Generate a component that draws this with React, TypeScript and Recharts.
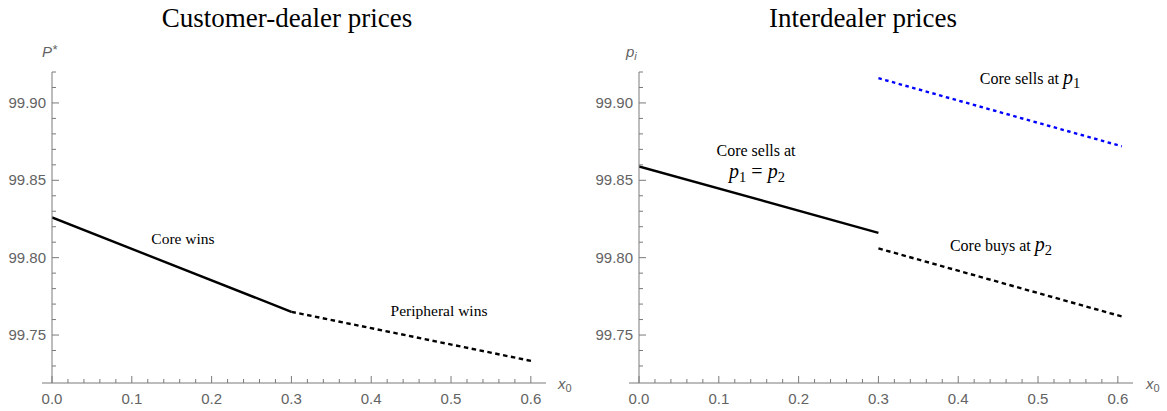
import React from 'react';
import { LineChart, Line, XAxis, YAxis, ReferenceLine } from 'recharts';

// ---------- data ----------
const xTicks = [0, 0.02, 0.04, 0.06, 0.08, 0.1, 0.12, 0.14, 0.16, 0.18, 0.2, 0.22, 0.24, 0.26, 0.28, 0.3, 0.32, 0.34, 0.36, 0.38, 0.4, 0.42, 0.44, 0.46, 0.48, 0.5, 0.52, 0.54, 0.56, 0.58, 0.6];
const xMajorTicks = [0, 0.1, 0.2, 0.3, 0.4, 0.5, 0.6];
const yTicks = [99.73, 99.74, 99.75, 99.76, 99.77, 99.78, 99.79, 99.8, 99.81, 99.82, 99.83, 99.84, 99.85, 99.86, 99.87, 99.88, 99.89, 99.9, 99.91, 99.92];
const yMajorTicks = [99.75, 99.8, 99.85, 99.9];

// left panel: customer-dealer prices
const coreWinsX = [0, 0.3];
const coreWinsP = [99.826, 99.765];
const peripheralWinsX = [0.3, 0.603];
const peripheralWinsP = [99.765, 99.733];

// right panel: interdealer prices
const coreSellsEqualX = [0, 0.3];
const coreSellsEqualP = [99.859, 99.816];
const coreSellsP1X = [0.3, 0.605];
const coreSellsP1P = [99.916, 99.872];
const coreBuysP2X = [0.3, 0.605];
const coreBuysP2P = [99.806, 99.762];

const X_DOMAIN: [number, number] = [0, 0.619];
const Y_DOMAIN: [number, number] = [99.719, 99.92];

const rows = (xs: number[], ys: number[]) => xs.map((x, i) => ({ x, p: ys[i] }));

// ---------- style ----------
const AXIS = '#7a7a7a';
const TEXT = '#636363';
const SANS = '"Liberation Sans", Arial, sans-serif';
const SERIF = '"Liberation Serif", "Times New Roman", serif';

const isIn = (arr: number[], v: number) => arr.some((m) => Math.abs(m - v) < 1e-6);

const XTick = (props: any) => {
  const { x, y, payload } = props;
  const v = payload.value as number;
  const major = isIn(xMajorTicks, v);
  return (
    <g>
      <line x1={x} x2={x} y1={y} y2={y - (major ? 7 : 4)} stroke={AXIS} strokeWidth={1} />
      {major && (
        <text x={x} y={y + 21} textAnchor="middle" fontFamily={SANS} fontSize={15} fill={TEXT}>
          {v.toFixed(1)}
        </text>
      )}
    </g>
  );
};

const YTick = (props: any) => {
  const { x, y, payload } = props;
  const v = payload.value as number;
  const major = isIn(yMajorTicks, v);
  return (
    <g>
      <line x1={x} x2={x + (major ? 7 : 4)} y1={y} y2={y} stroke={AXIS} strokeWidth={1} />
      {major && (
        <text x={x - 6} y={y + 5} textAnchor="end" fontFamily={SANS} fontSize={15} fill={TEXT}>
          {v.toFixed(2)}
        </text>
      )}
    </g>
  );
};

type Series = { key: string; data: { x: number; p: number }[]; color: string; dash?: string };

function Panel({ series, width, yAxisWidth, marginRight }: { series: Series[]; width: number; yAxisWidth: number; marginRight: number }) {
  return (
    <LineChart width={width} height={411} margin={{ top: 72, right: marginRight, bottom: 0, left: 0 }}>
      <XAxis
        type="number"
        dataKey="x"
        domain={X_DOMAIN}
        allowDataOverflow
        ticks={xTicks}
        interval={0}
        tick={(p: any) => <XTick {...p} />}
        tickLine={false}
        tickSize={0}
        tickMargin={0}
        height={28}
        axisLine={{ stroke: AXIS, strokeWidth: 1 }}
      />
      <YAxis
        type="number"
        domain={Y_DOMAIN}
        allowDataOverflow
        ticks={yTicks}
        interval={0}
        tick={(p: any) => <YTick {...p} />}
        tickLine={false}
        tickSize={0}
        tickMargin={0}
        width={yAxisWidth}
        axisLine={{ stroke: AXIS, strokeWidth: 1 }}
      />
      <ReferenceLine
        segment={[{ x: -0.0125, y: Y_DOMAIN[0] }, { x: 0, y: Y_DOMAIN[0] }]}
        ifOverflow="visible"
        stroke={AXIS}
        strokeWidth={1}
      />
      {series.map((s) => (
        <Line
          key={s.key}
          data={s.data}
          dataKey="p"
          type="linear"
          stroke={s.color}
          strokeWidth={2.4}
          strokeDasharray={s.dash}
          dot={false}
          activeDot={false}
          isAnimationActive={false}
        />
      ))}
    </LineChart>
  );
}

const leftSeries: Series[] = [
  { key: 'core', data: rows(coreWinsX, coreWinsP), color: '#000000' },
  { key: 'peri', data: rows(peripheralWinsX, peripheralWinsP), color: '#000000', dash: '4.5 3.5' },
];
const rightSeries: Series[] = [
  { key: 'eq', data: rows(coreSellsEqualX, coreSellsEqualP), color: '#000000' },
  { key: 'p1', data: rows(coreSellsP1X, coreSellsP1P), color: '#0000ff', dash: '3.5 3.5' },
  { key: 'p2', data: rows(coreBuysP2X, coreBuysP2P), color: '#000000', dash: '4.5 3.5' },
];

export default function App() {
  return (
    <div style={{ position: 'absolute', left: 0, top: 0, width: 1167, height: 411, background: '#fff' }}>
      <div style={{ position: 'absolute', left: 0, top: 0 }}>
        <Panel series={leftSeries} width={583} yAxisWidth={52} marginRight={37} />
      </div>
      <div style={{ position: 'absolute', left: 583, top: 0 }}>
        <Panel series={rightSeries} width={584} yAxisWidth={56} marginRight={34} />
      </div>
      <svg width={1167} height={411} style={{ position: 'absolute', left: 0, top: 0, pointerEvents: 'none' }}>
        {/* titles */}
        <text x={287} y={27} textAnchor="middle" fontFamily={SERIF} fontSize={27} fill="#000">Customer-dealer prices</text>
        <text x={863} y={27} textAnchor="middle" fontFamily={SERIF} fontSize={27} fill="#000">Interdealer prices</text>

        {/* axis labels */}
        <text x={42} y={57} fontFamily={SANS} fontSize={15} fontStyle="italic" fill={TEXT}>
          P<tspan fontSize={13} dy={-3}>*</tspan>
        </text>
        <text x={626} y={57} fontFamily={SANS} fontSize={15} fontStyle="italic" fill={TEXT}>
          p<tspan fontSize={11} dy={3}>i</tspan>
        </text>
        <text x={558} y={389} fontFamily={SANS} fontSize={15} fontStyle="italic" fill={TEXT}>
          x<tspan fontSize={11} dy={3} fontStyle="normal">0</tspan>
        </text>
        <text x={1146} y={389} fontFamily={SANS} fontSize={15} fontStyle="italic" fill={TEXT}>
          x<tspan fontSize={11} dy={3} fontStyle="normal">0</tspan>
        </text>

        {/* annotations */}
        <text x={183} y={244} textAnchor="middle" fontFamily={SERIF} fontSize={15.5} fill="#000">Core wins</text>
        <text x={439} y={316} textAnchor="middle" fontFamily={SERIF} fontSize={15.5} fill="#000">Peripheral wins</text>
        <text x={1030} y={84} textAnchor="middle" fontFamily={SERIF} fontSize={16} fill="#000">
          Core sells at <tspan fontSize={20} fontStyle="italic">p</tspan><tspan fontSize={14.5} dy={4}>1</tspan>
        </text>
        <text x={756} y={156} textAnchor="middle" fontFamily={SERIF} fontSize={16} fill="#000">Core sells at</text>
        <text x={757} y={178} textAnchor="middle" fontFamily={SERIF} fontSize={20} fill="#000">
          <tspan fontStyle="italic">p</tspan><tspan fontSize={14.5} dy={4}>1</tspan><tspan dy={-4}> = </tspan><tspan fontStyle="italic">p</tspan><tspan fontSize={14.5} dy={4}>2</tspan>
        </text>
        <text x={1001} y={251} textAnchor="middle" fontFamily={SERIF} fontSize={16} fill="#000">
          Core buys at <tspan fontSize={20} fontStyle="italic">p</tspan><tspan fontSize={14.5} dy={4}>2</tspan>
        </text>
      </svg>
    </div>
  );
}
